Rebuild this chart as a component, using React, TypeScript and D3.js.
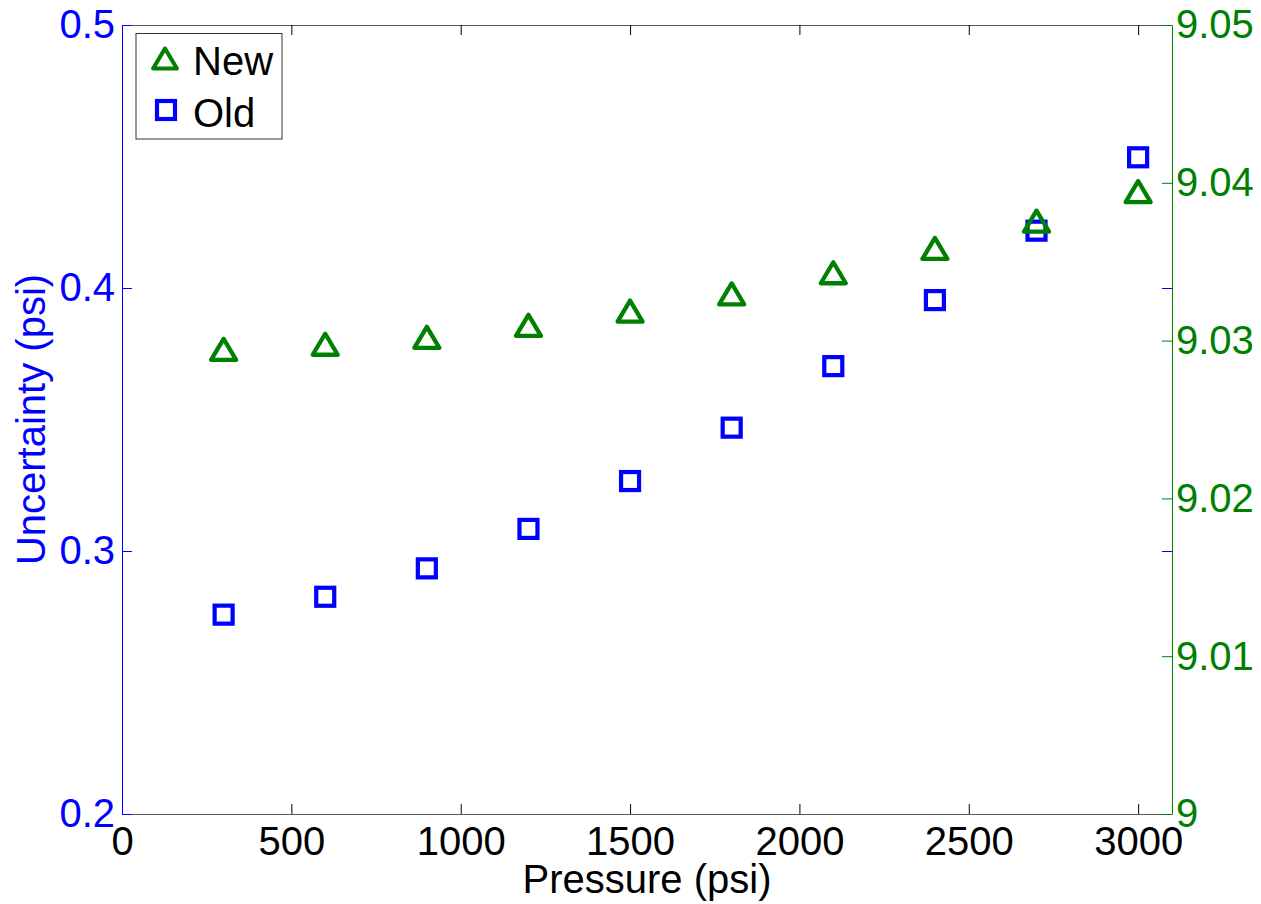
import React, { useEffect, useRef } from "react"
import * as d3 from "d3"

// pressure points (psi)
const pressure = [300, 600, 900, 1200, 1500, 1800, 2100, 2400, 2700, 3000]
// old method uncertainty, left axis
const oldUnc = [0.2758, 0.2826, 0.2934, 0.3084, 0.3266, 0.3469, 0.3703, 0.3954, 0.4218, 0.4497]
// new method uncertainty, right axis
const newUnc = [9.02944, 9.02977, 9.03021, 9.03097, 9.03187, 9.03296, 9.0343, 9.03584, 9.03757, 9.03944]

const xTicks = [0, 500, 1000, 1500, 2000, 2500, 3000]
const leftTicks = [0.2, 0.3, 0.4, 0.5]
const rightTicks = [9, 9.01, 9.02, 9.03, 9.04, 9.05]

const BLUE = "#0000ff"
const GREEN = "#008000"
const FONT = "'Liberation Sans', Arial, Helvetica, sans-serif"

const W = 1261, H = 904
const left = 122, right = 1172, top = 25, bottom = 814

const x = d3.scaleLinear().domain([0, 3100]).range([left, right])
const yL = d3.scaleLinear().domain([0.2, 0.5]).range([bottom, top])
const yR = d3.scaleLinear().domain([9, 9.05]).range([bottom, top])

const triPath = "M0,-10.5 L12.5,10.5 L-12.5,10.5 Z"
const SQ = 18

export default function App() {
  const ref = useRef<SVGGElement>(null)

  useEffect(() => {
    const g = d3.select(ref.current)
    g.selectAll("*").remove()

    const style = (sel: any, color: string, lineColor: string) => {
      sel.style("font-family", FONT).style("font-size", "40px")
      sel.selectAll("text").attr("fill", color)
      sel.selectAll(".tick line").attr("stroke", color)
      sel.select(".domain").attr("stroke", lineColor)
    }

    // bottom
    const xb = g.append("g")
      .attr("transform", `translate(0,${bottom})`)
      .call(d3.axisBottom(x).tickValues(xTicks).tickFormat(d3.format("d")).tickSize(-10).tickSizeOuter(0).tickPadding(12.6))
    style(xb, "#000", "#555")
    // top
    const xt = g.append("g")
      .attr("transform", `translate(0,${top})`)
      .call(d3.axisTop(x).tickValues(xTicks).tickFormat(() => "").tickSize(-10).tickSizeOuter(0))
    style(xt, "#000", "#555")

    // blue ticks mirrored on right
    const lr = g.append("g")
      .attr("transform", `translate(${right},0)`)
      .call(d3.axisRight(yL).tickValues(leftTicks).tickFormat(() => "").tickSize(-10).tickSizeOuter(0))
    style(lr, BLUE, "none")

    // left axis
    const la = g.append("g")
      .attr("transform", `translate(${left},0)`)
      .call(d3.axisLeft(yL).tickValues(leftTicks).tickFormat(d3.format(".1f")).tickSize(-10).tickSizeOuter(0).tickPadding(7))
    style(la, BLUE, BLUE)

    // right axis
    const ra = g.append("g")
      .attr("transform", `translate(${right},0)`)
      .call(d3.axisRight(yR).tickValues(rightTicks).tickFormat((d: any) => d3.format(".2f")(d).replace(/\.?0+$/, "")).tickSize(-10).tickSizeOuter(0).tickPadding(4))
    style(ra, GREEN, GREEN)
  }, [])

  return (
    <svg width={W} height={H} style={{ position: "absolute", left: 0, top: 0, background: "#fff" }}>
      <rect width={W} height={H} fill="#fff" />
      <g ref={ref} />

      {pressure.map((p, i) => (
        <rect key={"o" + i} x={x(p) - SQ / 2} y={yL(oldUnc[i]) - SQ / 2} width={SQ} height={SQ}
          fill="none" stroke={BLUE} strokeWidth={4.2} />
      ))}
      {pressure.map((p, i) => (
        <path key={"n" + i} d={triPath} transform={`translate(${x(p)},${yR(newUnc[i])})`}
          fill="none" stroke={GREEN} strokeWidth={4.3} strokeLinejoin="round" />
      ))}

      {/* legend */}
      <rect x={136} y={33.5} width={146} height={105.5} fill="#fff" stroke="#333" strokeWidth={1} />
      <path d={triPath} transform="translate(165,58.5) scale(0.95)" fill="none" stroke={GREEN} strokeWidth={4.3} strokeLinejoin="round" />
      <text x={193} y={75} fontFamily={FONT} fontSize={40} fill="#000">New</text>
      <rect x={166 - SQ / 2} y={110 - SQ / 2} width={SQ} height={SQ} fill="none" stroke={BLUE} strokeWidth={4.2} />
      <text x={193} y={126.5} fontFamily={FONT} fontSize={40} fill="#000">Old</text>

      <text x={(left + right) / 2} y={893} textAnchor="middle" fontFamily={FONT} fontSize={40} fill="#000">Pressure (psi)</text>
      <text transform={`translate(45,${(top + bottom) / 2}) rotate(-90)`} textAnchor="middle" fontFamily={FONT} fontSize={40} fill={BLUE}>Uncertainty (psi)</text>
    </svg>
  )
}
